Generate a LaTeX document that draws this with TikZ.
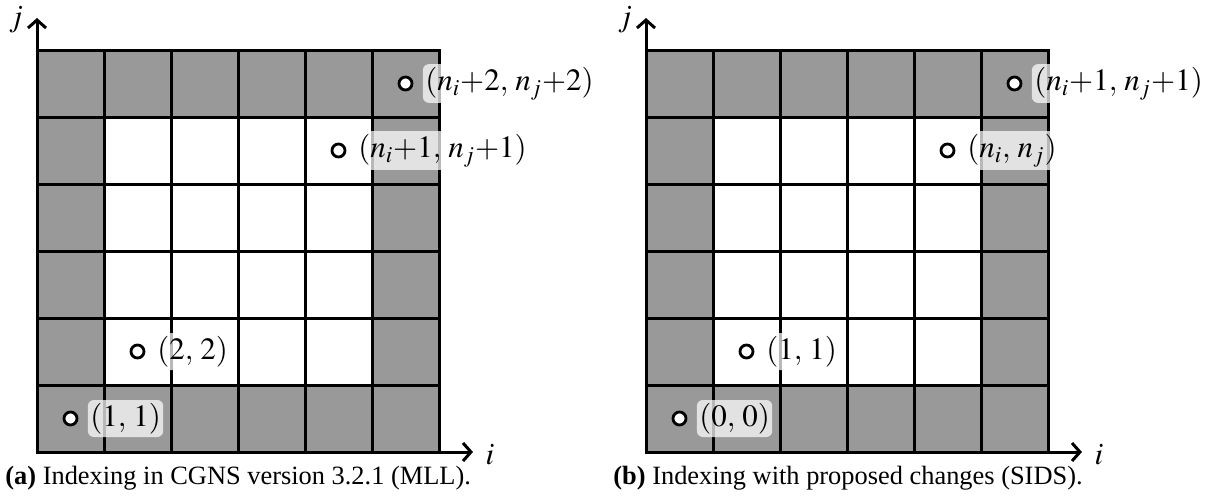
\documentclass[tikz,border=0pt]{standalone}
\usepackage{mathptmx}
\usepackage[no-math]{fontspec}
\setmainfont{Liberation Serif}
\usetikzlibrary{arrows.meta}
\definecolor{cellgray}{HTML}{999999}
\tikzset{
  gridline/.style={line width=1.5pt},
  axisline/.style={line width=1.5pt,-{Straight Barb[length=4pt,width=9pt,line width=1.5pt]}},
  ptmark/.style={circle,draw,fill=white,line width=1.4pt,minimum size=6.5pt,inner sep=0pt},
  lbl/.style={anchor=west,fill=white,fill opacity=0.72,text opacity=1,rounded corners=3pt,
    inner xsep=1.2pt,inner ysep=1.5pt,font=\fontsize{15.5}{18}\selectfont},
  axlbl/.style={font=\fontsize{15.5}{18}\selectfont,inner sep=0pt},
  captext/.style={anchor=base west,inner sep=0pt,font=\fontsize{13.2}{16}\selectfont}
}
\begin{document}
\begin{tikzpicture}[x=0.5pt,y=-0.5pt]
\useasboundingbox (0,0) rectangle (1212,495);
% ---------- left grid ----------
\begin{scope}[shift={(37,50)}]
  \fill[cellgray] (0,0) rectangle (402,402);
  \fill[white] (67,67) rectangle (335,335);
  \foreach \k in {1,...,5} {
    \draw[gridline] (\k*67,0) -- (\k*67,402);
    \draw[gridline] (0,\k*67) -- (402,\k*67);
  }
  \draw[gridline] (0,0) rectangle (402,402);
  \coordinate (Lo) at (0,402);
  \coordinate (Lj) at (0,-32);
  \coordinate (Li) at (436,402);
  \node[ptmark] (La) at (33.5,368.5) {};
  \node[ptmark] (Lb) at (100.5,301.5) {};
  \node[ptmark] (Lc) at (301.5,100.5) {};
  \node[ptmark] (Ld) at (368.5,33.5) {};
\end{scope}
\draw[axisline] (Lo) -- (Lj);
\draw[axisline] (Lo) -- (Li);
\node[axlbl] (Ljl) at (16,20) {$j$};
\node[axlbl] (Lil) at (490,455) {$i$};
\node[lbl] (Lal) at ([xshift=8.5pt]La) {$(1,\,1)$};
\node[lbl] (Lbl) at ([xshift=8.5pt]Lb) {$(2,\,2)$};
\node[lbl] (Lcl) at ([xshift=8.5pt]Lc) {$(n_i{+}1,\,n_j{+}1)$};
\node[lbl] (Ldl) at ([xshift=8.5pt]Ld) {$(n_i{+}2,\,n_j{+}2)$};
\node[captext] (Lcap) at (5,484) {\textbf{(a)} Indexing in CGNS version 3.2.1 (MLL).};
% ---------- right grid ----------
\begin{scope}[shift={(646,50)}]
  \fill[cellgray] (0,0) rectangle (402,402);
  \fill[white] (67,67) rectangle (335,335);
  \foreach \k in {1,...,5} {
    \draw[gridline] (\k*67,0) -- (\k*67,402);
    \draw[gridline] (0,\k*67) -- (402,\k*67);
  }
  \draw[gridline] (0,0) rectangle (402,402);
  \coordinate (Ro) at (0,402);
  \coordinate (Rj) at (0,-32);
  \coordinate (Ri) at (436,402);
  \node[ptmark] (Ra) at (33.5,368.5) {};
  \node[ptmark] (Rb) at (100.5,301.5) {};
  \node[ptmark] (Rc) at (301.5,100.5) {};
  \node[ptmark] (Rd) at (368.5,33.5) {};
\end{scope}
\draw[axisline] (Ro) -- (Rj);
\draw[axisline] (Ro) -- (Ri);
\node[axlbl] (Rjl) at (625,20) {$j$};
\node[axlbl] (Ril) at (1099,455) {$i$};
\node[lbl] (Ral) at ([xshift=8.5pt]Ra) {$(0,\,0)$};
\node[lbl] (Rbl) at ([xshift=8.5pt]Rb) {$(1,\,1)$};
\node[lbl] (Rcl) at ([xshift=8.5pt]Rc) {$(n_i,\,n_j)$};
\node[lbl] (Rdl) at ([xshift=8.5pt]Rd) {$(n_i{+}1,\,n_j{+}1)$};
\node[captext] (Rcap) at (613,484) {\textbf{(b)} Indexing with proposed changes (SIDS).};
\end{tikzpicture}
\end{document}
